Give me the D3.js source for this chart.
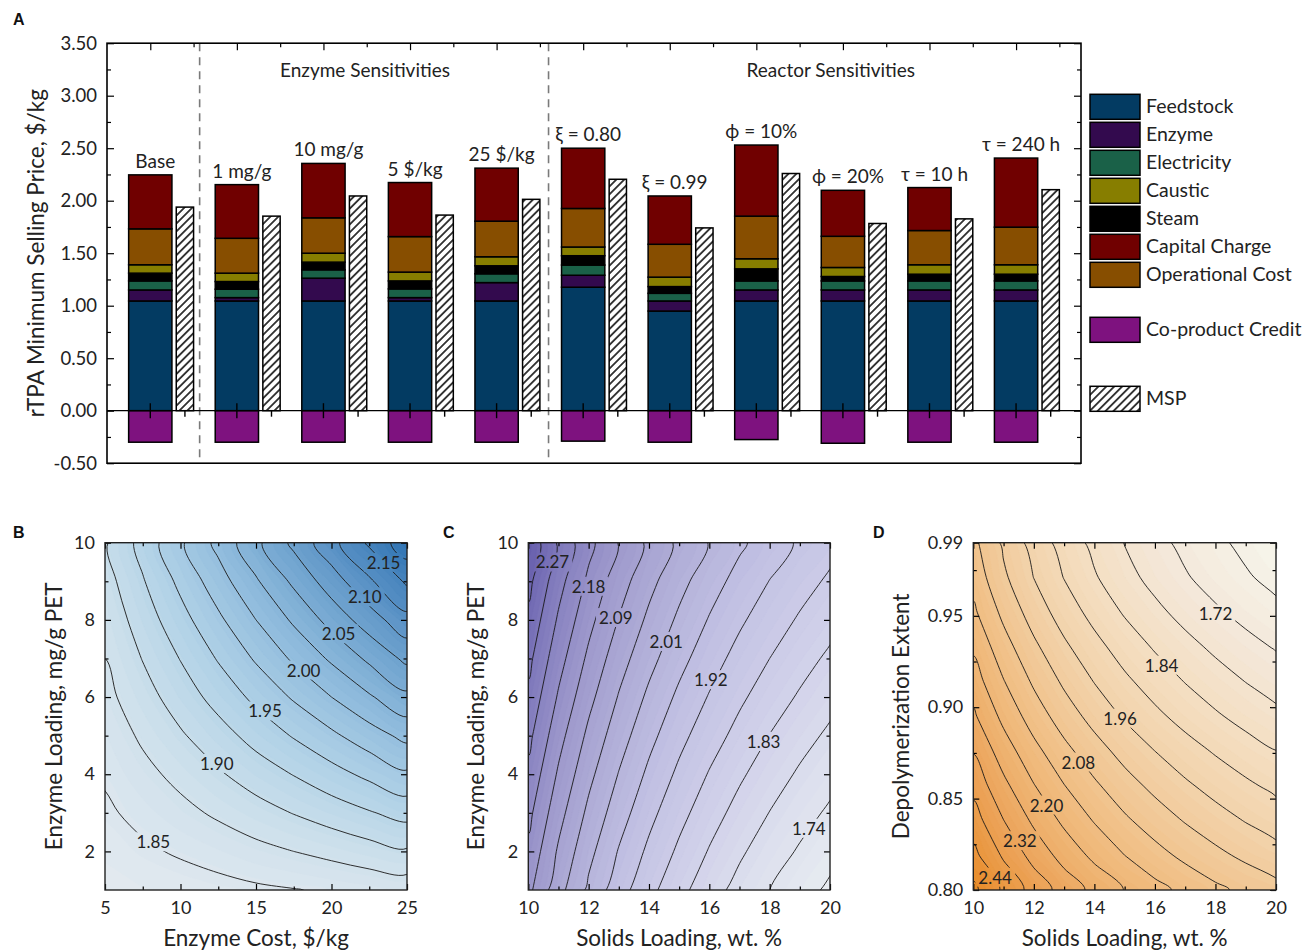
<!DOCTYPE html>
<html>
<head>
<meta charset="utf-8">
<script src="https://cdnjs.cloudflare.com/ajax/libs/d3/7.8.5/d3.min.js"></script>
<style>
  body { margin: 0; background: #fff; }
  svg { font-family: Lato, "Noto Sans", sans-serif; }
  .tick text { font-size: 18px; fill: #222; }
  .ax-a .tick text { font-size: 18.5px; }
  .tick line { stroke: #000; stroke-width: 1.2; }
  .clab { font-size: 17px; fill: #222; }
  .title { font-size: 22.5px; fill: #222; }
  .lbl { font-size: 19px; fill: #222; }
  .letter { font-family: "Liberation Sans", Arial, sans-serif; font-weight: 700; font-size: 16px; fill: #111; }
</style>
</head>
<body>
<svg id="fig" width="1308" height="952"></svg>
<script>
// ---------- panel A data ----------
const groups = ['Base', '1 mg/g', '10 mg/g', '5 $/kg', '25 $/kg',
  'ξ = 0.80', 'ξ = 0.99', 'ϕ = 10%', 'ϕ = 20%', 'τ = 10 h', 'τ = 240 h'];
const feedstock   = [1.045, 1.045, 1.045, 1.045, 1.045, 1.176, 0.949, 1.045, 1.045, 1.045, 1.045];
const enzyme      = [0.105, 0.032, 0.217, 0.032, 0.175, 0.114, 0.096, 0.105, 0.105, 0.105, 0.105];
const electricity = [0.086, 0.080, 0.080, 0.083, 0.084, 0.097, 0.073, 0.086, 0.086, 0.086, 0.086];
const steam       = [0.074, 0.073, 0.073, 0.076, 0.076, 0.089, 0.064, 0.115, 0.042, 0.064, 0.064];
const caustic     = [0.080, 0.080, 0.085, 0.084, 0.086, 0.083, 0.090, 0.096, 0.086, 0.090, 0.090];
const operational = [0.342, 0.332, 0.337, 0.338, 0.339, 0.367, 0.313, 0.406, 0.297, 0.326, 0.358];
const capital     = [0.514, 0.511, 0.518, 0.515, 0.505, 0.574, 0.460, 0.677, 0.438, 0.409, 0.658];
const msp         = [1.939, 1.853, 2.045, 1.863, 2.013, 2.204, 1.741, 2.259, 1.783, 1.827, 2.105];
const credit      = [-0.30, -0.30, -0.30, -0.30, -0.30, -0.29, -0.30, -0.275, -0.31, -0.30, -0.30];
const sections = ['Enzyme Sensitivities', 'Reactor Sensitivities'];
const sectionAt = [2.48, 7.86];
const dividers = [0.57, 4.6];
const yTicksA = [-0.5, 0, 0.5, 1, 1.5, 2, 2.5, 3, 3.5];

// ---------- panel B data: MSP vs enzyme cost (cols) and enzyme loading (rows) ----------
const bCost = [5, 7.5, 10, 12.5, 15, 17.5, 20, 22.5, 25];
const bLoad = [1, 2, 3, 4, 5, 6, 7, 8, 9, 10];
const bMSP = [
  [1.831, 1.835, 1.838, 1.842, 1.846, 1.849, 1.853, 1.857, 1.860],
  [1.838, 1.846, 1.853, 1.860, 1.868, 1.875, 1.882, 1.890, 1.897],
  [1.846, 1.857, 1.868, 1.879, 1.890, 1.901, 1.912, 1.923, 1.934],
  [1.853, 1.868, 1.882, 1.897, 1.912, 1.926, 1.941, 1.956, 1.971],
  [1.860, 1.879, 1.897, 1.915, 1.934, 1.952, 1.970, 1.989, 2.007],
  [1.868, 1.890, 1.912, 1.934, 1.956, 1.978, 2.000, 2.022, 2.044],
  [1.875, 1.901, 1.926, 1.952, 1.978, 2.004, 2.029, 2.055, 2.081],
  [1.882, 1.912, 1.941, 1.970, 2.000, 2.029, 2.059, 2.088, 2.117],
  [1.890, 1.923, 1.956, 1.989, 2.022, 2.055, 2.088, 2.121, 2.154],
  [1.897, 1.934, 1.971, 2.007, 2.044, 2.081, 2.117, 2.154, 2.191]
];
const bLevels = [1.85, 1.875, 1.90, 1.925, 1.95, 1.975, 2.00, 2.025, 2.05, 2.075, 2.10, 2.125, 2.15, 2.175];
const bLabels = [['1.85', 8.2, 2.25], ['1.90', 12.4, 4.28], ['1.95', 15.6, 5.64], ['2.00', 18.15, 6.7],
  ['2.05', 20.47, 7.64], ['2.10', 22.2, 8.6], ['2.15', 23.45, 9.49]];

// ---------- panel C data: MSP vs solids loading (cols) and enzyme loading (rows) ----------
const cSolids = [10, 11, 12, 13, 14, 15, 16, 17, 18, 19, 20];
const cLoad = [1, 2, 3, 4, 5, 6, 7, 8, 9, 10];
const cMSP = [
  [2.150, 2.066, 1.996, 1.936, 1.885, 1.841, 1.803, 1.769, 1.739, 1.712, 1.687],
  [2.172, 2.088, 2.018, 1.958, 1.908, 1.864, 1.825, 1.791, 1.761, 1.734, 1.709],
  [2.194, 2.110, 2.040, 1.981, 1.930, 1.886, 1.847, 1.813, 1.783, 1.756, 1.732],
  [2.216, 2.132, 2.062, 2.003, 1.952, 1.908, 1.869, 1.835, 1.805, 1.778, 1.754],
  [2.239, 2.154, 2.084, 2.025, 1.974, 1.930, 1.892, 1.858, 1.827, 1.800, 1.776],
  [2.261, 2.177, 2.107, 2.047, 1.996, 1.952, 1.914, 1.880, 1.850, 1.823, 1.798],
  [2.283, 2.199, 2.129, 2.069, 2.019, 1.975, 1.936, 1.902, 1.872, 1.845, 1.820],
  [2.305, 2.221, 2.151, 2.092, 2.041, 1.997, 1.958, 1.924, 1.894, 1.867, 1.843],
  [2.327, 2.243, 2.173, 2.114, 2.063, 2.019, 1.980, 1.946, 1.916, 1.889, 1.865],
  [2.350, 2.265, 2.195, 2.136, 2.085, 2.041, 2.003, 1.969, 1.939, 1.911, 1.887]
];
const cLevels = [1.695, 1.739, 1.784, 1.828, 1.872, 1.917, 1.961, 2.005, 2.050, 2.094, 2.138, 2.182, 2.227, 2.271, 2.315];
const cLabels = [['2.27', 10.8, 9.5], ['2.18', 12.0, 8.87], ['2.09', 12.9, 8.06], ['2.01', 14.57, 7.44],
  ['1.92', 16.05, 6.45], ['1.83', 17.8, 4.85], ['1.74', 19.3, 2.6]];

// ---------- panel D data: MSP vs solids loading (cols) and depolymerization extent (rows) ----------
const dSolids = [10, 11, 12, 13, 14, 15, 16, 17, 18, 19, 20];
const dExtent = [0.80, 0.819, 0.838, 0.857, 0.876, 0.895, 0.914, 0.933, 0.952, 0.971, 0.99];
const dMSP = [
  [2.515, 2.429, 2.357, 2.296, 2.244, 2.198, 2.159, 2.124, 2.093, 2.065, 2.040],
  [2.457, 2.371, 2.299, 2.238, 2.186, 2.140, 2.101, 2.066, 2.035, 2.007, 1.982],
  [2.407, 2.321, 2.249, 2.188, 2.136, 2.090, 2.051, 2.016, 1.985, 1.957, 1.932],
  [2.361, 2.275, 2.203, 2.142, 2.090, 2.044, 2.005, 1.970, 1.939, 1.911, 1.886],
  [2.316, 2.230, 2.158, 2.097, 2.045, 1.999, 1.960, 1.925, 1.894, 1.866, 1.841],
  [2.270, 2.184, 2.112, 2.051, 1.999, 1.953, 1.914, 1.879, 1.848, 1.820, 1.795],
  [2.229, 2.143, 2.071, 2.010, 1.958, 1.912, 1.873, 1.838, 1.807, 1.779, 1.754],
  [2.190, 2.104, 2.032, 1.971, 1.919, 1.873, 1.834, 1.799, 1.768, 1.740, 1.715],
  [2.151, 2.065, 1.993, 1.932, 1.880, 1.834, 1.795, 1.760, 1.729, 1.701, 1.676],
  [2.117, 2.031, 1.959, 1.898, 1.846, 1.800, 1.761, 1.726, 1.695, 1.667, 1.642],
  [2.095, 2.009, 1.937, 1.876, 1.824, 1.778, 1.739, 1.704, 1.673, 1.645, 1.620]
];
const dLevels = [1.66, 1.72, 1.78, 1.84, 1.90, 1.96, 2.02, 2.08, 2.14, 2.20, 2.26, 2.32, 2.38, 2.44, 2.50];
const dLabels = [['1.72', 18.0, 0.951], ['1.84', 16.22, 0.923], ['1.96', 14.85, 0.894], ['2.08', 13.47, 0.870],
  ['2.20', 12.42, 0.8465], ['2.32', 11.54, 0.827], ['2.44', 10.72, 0.807]];

// ---------- drawing ----------
const svg = d3.select('#fig');
const defs = svg.append('defs');

const pat = defs.append('pattern').attr('id', 'hatch').attr('patternUnits', 'userSpaceOnUse')
  .attr('width', 5.6).attr('height', 5.6).attr('patternTransform', 'rotate(45)');
pat.append('rect').attr('width', 5.6).attr('height', 5.6).attr('fill', '#fff');
pat.append('line').attr('x1', 2.8).attr('y1', 0).attr('x2', 2.8).attr('y2', 5.6)
  .attr('stroke', '#000').attr('stroke-width', 1.5);

const keys = ['feedstock', 'enzyme', 'electricity', 'steam', 'caustic', 'operational', 'capital'];
const series = {feedstock, enzyme, electricity, steam, caustic, operational, capital};
const colors = {
  feedstock: '#033b62', enzyme: '#330a4e', electricity: '#1a6148', caustic: '#877e00',
  steam: '#000000', capital: '#700000', operational: '#874e00', credit: '#7e127f'
};

const A = {left: 107, right: 1081, top: 43.2, bottom: 463.2};
const xA = d3.scaleLinear().domain([-0.5, 10.75]).range([A.left, A.right]);
const yA = d3.scaleLinear().domain([-0.5, 3.5]).range([A.bottom, A.top]);
const barW = 0.5, mspW = 0.2, mspOff = 0.4;

const rows = groups.map((g, i) => {
  const r = {group: g, i: i};
  keys.forEach(k => r[k] = series[k][i]);
  return r;
});
const stacked = d3.stack().keys(keys)(rows);

const gA = svg.append('g');

// dashed dividers
gA.selectAll('.div').data(dividers).join('line')
  .attr('x1', d => xA(d)).attr('x2', d => xA(d))
  .attr('y1', A.top).attr('y2', A.bottom)
  .attr('stroke', '#7a7a7a').attr('stroke-width', 1.6).attr('stroke-dasharray', '8,6');

// stacked bars
stacked.forEach(layer => {
  gA.append('g').selectAll('rect').data(layer).join('rect')
    .attr('x', (d, i) => xA(i - barW / 2))
    .attr('width', xA(barW) - xA(0))
    .attr('y', d => yA(d[1]))
    .attr('height', d => yA(d[0]) - yA(d[1]))
    .attr('fill', colors[layer.key])
    .attr('stroke', '#000').attr('stroke-width', 1.5);
});

// co-product credit
gA.append('g').selectAll('rect').data(credit).join('rect')
  .attr('x', (d, i) => xA(i - barW / 2))
  .attr('width', xA(barW) - xA(0))
  .attr('y', yA(0))
  .attr('height', d => yA(d) - yA(0))
  .attr('fill', colors.credit).attr('stroke', '#000').attr('stroke-width', 1.5);

// MSP
gA.append('g').selectAll('rect').data(msp).join('rect')
  .attr('x', (d, i) => xA(i + mspOff - mspW / 2))
  .attr('width', xA(mspW) - xA(0))
  .attr('y', d => yA(d))
  .attr('height', d => yA(0) - yA(d))
  .attr('fill', 'url(#hatch)').attr('stroke', '#000').attr('stroke-width', 1.5);

// bar labels
const tops = stacked[stacked.length - 1].map(d => d[1]);
gA.append('g').selectAll('text').data(groups).join('text')
  .attr('class', 'lbl')
  .attr('x', (d, i) => xA(i) + 5)
  .attr('y', (d, i) => yA(tops[i]) - 7)
  .attr('text-anchor', 'middle')
  .text(d => d);

// section titles
gA.append('g').selectAll('text').data(sections).join('text')
  .attr('class', 'lbl').attr('x', (d, i) => xA(sectionAt[i])).attr('y', 77)
  .attr('text-anchor', 'middle').text(d => d);

// zero line with ticks
gA.append('line').attr('x1', A.left).attr('x2', A.right).attr('y1', yA(0)).attr('y2', yA(0))
  .attr('stroke', '#000').attr('stroke-width', 1.3);
gA.append('g').selectAll('line').data(groups).join('line')
  .attr('x1', (d, i) => xA(i)).attr('x2', (d, i) => xA(i))
  .attr('y1', yA(0) - 7.5).attr('y2', yA(0) + 7.5).attr('stroke', '#000').attr('stroke-width', 1.4);
gA.append('g').selectAll('line').data(groups).join('line')
  .attr('x1', (d, i) => xA(i + mspOff)).attr('x2', (d, i) => xA(i + mspOff))
  .attr('y1', yA(0)).attr('y2', yA(0) + 6).attr('stroke', '#000').attr('stroke-width', 1.4);

// axes of A
function cleanAxis(g) {
  g.attr('font-size', null).attr('font-family', null);
  g.select('.domain').remove();
}
const yMinorA = d3.range(-0.25, 3.5, 0.5);
gA.append('g').attr('class', 'ax-a').attr('transform', `translate(${A.left},0)`)
  .call(d3.axisLeft(yA).tickValues(yTicksA).tickSize(-7).tickPadding(10).tickFormat(d => d.toFixed(2))).call(cleanAxis);
gA.append('g').attr('transform', `translate(${A.left},0)`)
  .call(d3.axisLeft(yA).tickValues(yMinorA).tickSize(-4).tickFormat('')).call(cleanAxis);
gA.append('g').attr('transform', `translate(${A.right},0)`)
  .call(d3.axisRight(yA).tickValues(yTicksA).tickSize(-7).tickFormat('')).call(cleanAxis);
gA.append('g').attr('transform', `translate(${A.right},0)`)
  .call(d3.axisRight(yA).tickValues(yMinorA).tickSize(-4).tickFormat('')).call(cleanAxis);
gA.append('g').attr('transform', `translate(0,${A.top})`)
  .call(d3.axisTop(xA).tickValues(d3.range(0, 11)).tickSize(-7).tickFormat('')).call(cleanAxis);
gA.append('g').attr('transform', `translate(0,${A.top})`)
  .call(d3.axisTop(xA).tickValues(d3.range(0.5, 10.6, 1)).tickSize(-4).tickFormat('')).call(cleanAxis);
gA.append('rect').attr('x', A.left).attr('y', A.top).attr('width', A.right - A.left).attr('height', A.bottom - A.top)
  .attr('fill', 'none').attr('stroke', '#000').attr('stroke-width', 1.6);

gA.append('text').attr('class', 'title')
  .attr('transform', `translate(44,${(A.top + A.bottom) / 2}) rotate(-90)`)
  .attr('text-anchor', 'middle').text('rTPA Minimum Selling Price, $/kg');

// legend
const legendItems = [
  ['Feedstock', 'feedstock', 94.3], ['Enzyme', 'enzyme', 122.3], ['Electricity', 'electricity', 150.3],
  ['Caustic', 'caustic', 178.3], ['Steam', 'steam', 206.3], ['Capital Charge', 'capital', 234.3],
  ['Operational Cost', 'operational', 262.3], ['Co-product Credit', 'credit', 317.3], ['MSP', 'msp', 386.3]
];
const lg = svg.append('g');
lg.selectAll('rect').data(legendItems).join('rect')
  .attr('x', 1090).attr('y', d => d[2]).attr('width', 50).attr('height', 25)
  .attr('fill', d => d[1] === 'msp' ? 'url(#hatch)' : colors[d[1]])
  .attr('stroke', '#000').attr('stroke-width', 1.5);
lg.selectAll('text').data(legendItems).join('text')
  .attr('class', 'lbl').style('font-size', '19.5px')
  .attr('x', 1146).attr('y', d => d[2] + 19).text(d => d[0]);

svg.append('text').attr('class', 'letter').attr('x', 13).attr('y', 25).text('A');

// ---------- contour panels ----------
function contourPanel(p) {
  const nx = p.xv.length, ny = p.yv.length;
  const xs = d3.scaleLinear().domain([p.xv[0], p.xv[nx - 1]]).range([p.left, p.right]);
  const ys = d3.scaleLinear().domain([p.yv[0], p.yv[ny - 1]]).range([p.bottom, p.top]);
  const sx = (p.xv[nx - 1] - p.xv[0]) / (nx - 1), sy = (p.yv[ny - 1] - p.yv[0]) / (ny - 1);
  const values = p.grid.flat();
  const line = d3.line()
    .x(d => xs(p.xv[0] + (d[0] - 0.5) * sx))
    .y(d => ys(p.yv[0] + (d[1] - 0.5) * sy))
    .curve(d3.curveCatmullRomClosed);
  const pathOf = c => c.coordinates.map(poly => poly.map(r => line(r.slice(0, -1))).join('')).join('');

  defs.append('clipPath').attr('id', 'clip' + p.name).append('rect')
    .attr('x', p.left).attr('y', p.top).attr('width', p.right - p.left).attr('height', p.bottom - p.top);
  const g = svg.append('g').attr('clip-path', `url(#clip${p.name})`);

  const step = p.levels[1] - p.levels[0];
  const fills = d3.range(d3.min(values) - 0.02, d3.max(values), step / 3);
  g.append('g').selectAll('path')
    .data(d3.contours().size([nx, ny]).thresholds(fills)(values)).join('path')
    .attr('d', pathOf)
    .attr('fill', d => p.color(d.value + step / 6))
    .attr('stroke', d => p.color(d.value + step / 6)).attr('stroke-width', 0.6);

  const labG = svg.append('g');
  const labs = labG.selectAll('text').data(p.labels).join('text')
    .attr('class', 'clab').attr('x', d => xs(d[1])).attr('y', d => ys(d[2]))
    .attr('text-anchor', 'middle').attr('dominant-baseline', 'central').text(d => d[0]);

  const mask = defs.append('mask').attr('id', 'mask' + p.name).attr('maskUnits', 'userSpaceOnUse')
    .attr('x', 0).attr('y', 0).attr('width', 1308).attr('height', 952);
  mask.append('rect').attr('x', p.left).attr('y', p.top).attr('width', p.right - p.left)
    .attr('height', p.bottom - p.top).attr('fill', '#fff');
  labs.each(function () {
    const b = this.getBBox();
    mask.append('rect').attr('x', b.x - 3).attr('y', b.y + 1).attr('width', b.width + 6)
      .attr('height', b.height - 2).attr('fill', '#000');
  });

  g.append('g').attr('mask', `url(#mask${p.name})`).selectAll('path')
    .data(d3.contours().size([nx, ny]).thresholds(p.levels)(values)).join('path')
    .attr('d', pathOf).attr('fill', 'none').attr('stroke', '#1a1a1a').attr('stroke-width', 0.9);

  // axes
  const ax = svg.append('g');
  ax.append('g').attr('transform', `translate(0,${p.bottom})`)
    .call(d3.axisBottom(xs).tickValues(p.xMajor).tickSize(-6).tickPadding(11).tickFormat(p.xFmt)).call(cleanAxis);
  ax.append('g').attr('transform', `translate(0,${p.bottom})`)
    .call(d3.axisBottom(xs).tickValues(p.xMinor).tickSize(-3.5).tickFormat('')).call(cleanAxis);
  ax.append('g').attr('transform', `translate(0,${p.top})`)
    .call(d3.axisTop(xs).tickValues(p.xMajor).tickSize(-6).tickFormat('')).call(cleanAxis);
  ax.append('g').attr('transform', `translate(0,${p.top})`)
    .call(d3.axisTop(xs).tickValues(p.xMinor).tickSize(-3.5).tickFormat('')).call(cleanAxis);
  ax.append('g').attr('transform', `translate(${p.left},0)`)
    .call(d3.axisLeft(ys).tickValues(p.yMajor).tickSize(-6).tickPadding(10).tickFormat(p.yFmt)).call(cleanAxis);
  ax.append('g').attr('transform', `translate(${p.left},0)`)
    .call(d3.axisLeft(ys).tickValues(p.yMinor).tickSize(-3.5).tickFormat('')).call(cleanAxis);
  ax.append('g').attr('transform', `translate(${p.right},0)`)
    .call(d3.axisRight(ys).tickValues(p.yMajor).tickSize(-6).tickFormat('')).call(cleanAxis);
  ax.append('g').attr('transform', `translate(${p.right},0)`)
    .call(d3.axisRight(ys).tickValues(p.yMinor).tickSize(-3.5).tickFormat('')).call(cleanAxis);
  ax.append('rect').attr('x', p.left).attr('y', p.top).attr('width', p.right - p.left)
    .attr('height', p.bottom - p.top).attr('fill', 'none').attr('stroke', '#222').attr('stroke-width', 1.4);

  ax.append('text').attr('class', 'title').attr('x', (p.left + p.right) / 2).attr('y', 946)
    .attr('text-anchor', 'middle').text(p.xTitle);
  ax.append('text').attr('class', 'title')
    .attr('transform', `translate(${p.yTitleX},${(p.top + p.bottom) / 2}) rotate(-90)`)
    .attr('text-anchor', 'middle').text(p.yTitle);
  ax.append('text').attr('class', 'letter').attr('x', p.letterX).attr('y', 538).text(p.name);
}

const intFmt = d => String(d);
const f2 = d => d.toFixed(2);

contourPanel({
  name: 'B', left: 105, right: 407, top: 542.7, bottom: 890,
  xv: bCost, yv: bLoad, grid: bMSP, levels: bLevels, labels: bLabels,
  color: d3.scaleLinear().domain([1.82, 1.88, 1.94, 2.00, 2.06, 2.12, 2.20])
    .range(['#e6ebf0', '#d0e1ec', '#b3d3e7', '#96c0df', '#77a9d2', '#5991c5', '#2c71b1']),
  xMajor: [5, 10, 15, 20, 25], xMinor: [7.5, 12.5, 17.5, 22.5],
  yMajor: [2, 4, 6, 8, 10], yMinor: [3, 5, 7, 9], xFmt: intFmt, yFmt: intFmt,
  xTitle: 'Enzyme Cost, $/kg', yTitle: 'Enzyme Loading, mg/g PET', yTitleX: 62, letterX: 13
});

contourPanel({
  name: 'C', left: 528.3, right: 830, top: 542.7, bottom: 890,
  xv: cSolids, yv: cLoad, grid: cMSP, levels: cLevels, labels: cLabels,
  color: d3.scaleLinear().domain([1.68, 1.76, 1.85, 1.95, 2.05, 2.15, 2.25, 2.35])
    .range(['#e9eef1', '#dde0ee', '#cfcfe9', '#c0bfe2', '#aeabd6', '#9c97cb', '#837dbe', '#665eac']),
  xMajor: [10, 12, 14, 16, 18, 20], xMinor: [11, 13, 15, 17, 19],
  yMajor: [2, 4, 6, 8, 10], yMinor: [3, 5, 7, 9], xFmt: intFmt, yFmt: intFmt,
  xTitle: 'Solids Loading, wt. %', yTitle: 'Enzyme Loading, mg/g PET', yTitleX: 484, letterX: 443
});

contourPanel({
  name: 'D', left: 973.3, right: 1276, top: 542.7, bottom: 890,
  xv: dSolids, yv: dExtent, grid: dMSP, levels: dLevels, labels: dLabels,
  color: d3.scaleLinear().domain([1.62, 1.72, 1.84, 1.96, 2.08, 2.20, 2.32, 2.44, 2.52])
    .range(['#f6f5ea', '#f4e9dc', '#f4dfc3', '#f2d3ab', '#f1c590', '#efb676', '#eca55c', '#ea973f', '#e78a26']),
  xMajor: [10, 12, 14, 16, 18, 20], xMinor: [11, 13, 15, 17, 19],
  yMajor: [0.80, 0.85, 0.90, 0.95, 0.99], yMinor: [0.825, 0.875, 0.925, 0.975], xFmt: intFmt, yFmt: f2,
  xTitle: 'Solids Loading, wt. %', yTitle: 'Depolymerization Extent', yTitleX: 909, letterX: 873
});
</script>
</body>
</html>
